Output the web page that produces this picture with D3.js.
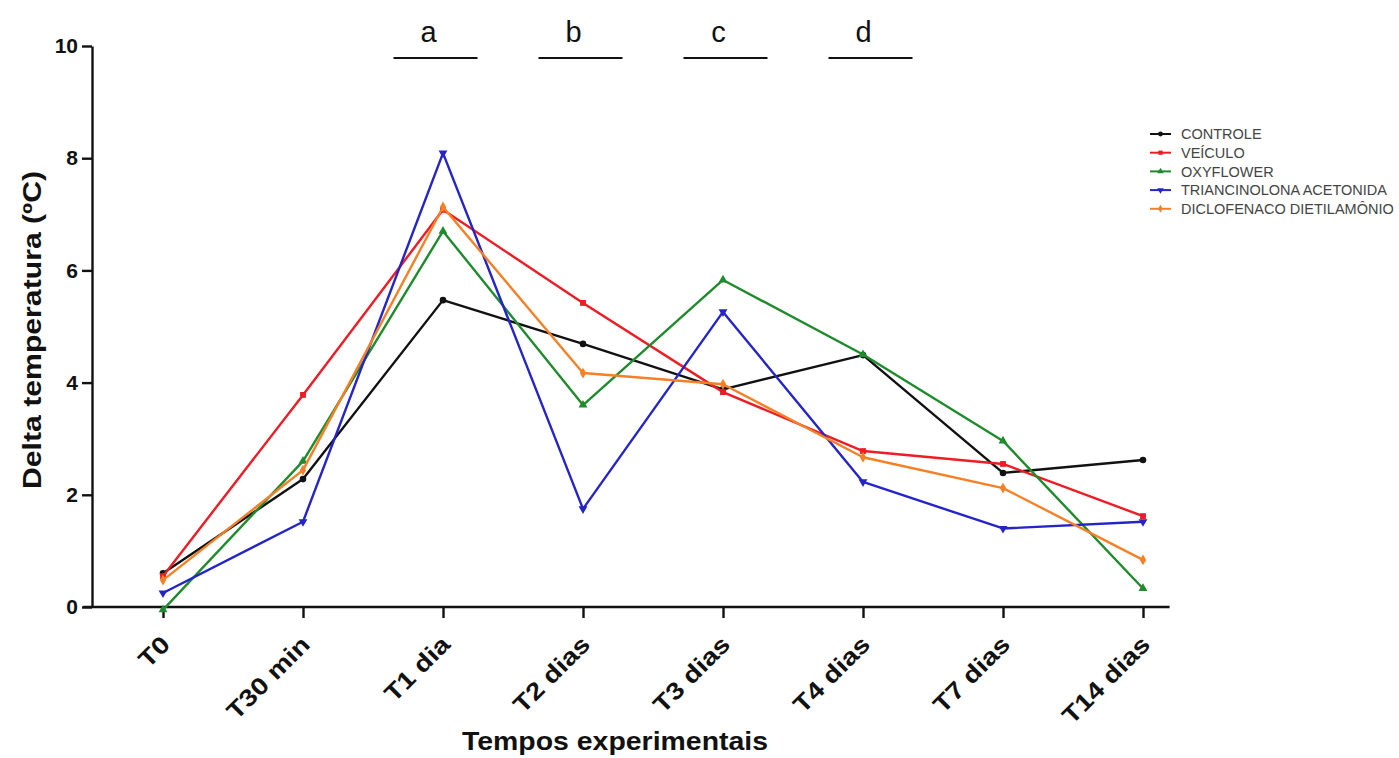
<!DOCTYPE html>
<html>
<head>
<meta charset="utf-8">
<script src="https://d3js.org/d3.v7.min.js"></script>
<style>
  body { margin: 0; background: #fff; }
  svg { font-family: "Liberation Sans", Arial, sans-serif; }
  .axis path, .axis line { stroke: #111; stroke-width: 2.4px; }
  .axis text { font-weight: bold; fill: #111; }
  .serie { fill: none; stroke-width: 2.4px; stroke-linejoin: round; }
</style>
</head>
<body>
<svg width="1399" height="758"></svg>
<script>
// tempos
var tempos = ["T0", "T30 min", "T1 dia", "T2 dias", "T3 dias", "T4 dias", "T7 dias", "T14 dias"];

// delta temperatura por grupo
var controle      = [0.60, 2.28, 5.47, 4.69, 3.88, 4.49, 2.39, 2.62];
var veiculo       = [0.55, 3.78, 7.08, 5.42, 3.83, 2.78, 2.55, 1.62];
var oxyflower     = [-0.05, 2.60, 6.70, 3.60, 5.83, 4.50, 2.96, 0.33];
var triancinolona = [0.25, 1.52, 8.09, 1.75, 5.26, 2.23, 1.40, 1.52];
var diclofenaco   = [0.48, 2.44, 7.13, 4.17, 3.97, 2.67, 2.12, 0.84];

var grupos = ["CONTROLE", "VEÍCULO", "OXYFLOWER", "TRIANCINOLONA ACETONIDA", "DICLOFENACO DIETILAMÔNIO"];
var cores  = ["#111111", "#ee1c24", "#1f8b2c", "#2424c8", "#f58025"];
var yTicks = [0, 2, 4, 6, 8, 10];

// letras acima (a..d) sobre T1..T4
var letras = ["a", "b", "c", "d"];
var letrasTempo = ["T1 dia", "T2 dias", "T3 dias", "T4 dias"];

var series = [controle, veiculo, oxyflower, triancinolona, diclofenaco];
var simbolos = [d3.symbolCircle, d3.symbolSquare, d3.symbolTriangle, d3.symbolTriangle, d3.symbolDiamond];
var rotacao = [0, 0, 0, 180, 0];

var svg = d3.select("svg");

var x = d3.scaleLinear().domain([0, tempos.length - 1]).range([163, 1143]);
var y = d3.scaleLinear().domain([0, 10]).range([607, 46]);

// eixo x
var xAxis = svg.append("g")
  .attr("class", "axis")
  .attr("transform", "translate(0," + y(0) + ")")
  .call(d3.axisBottom(x).tickValues(d3.range(tempos.length)).tickFormat(function(i) { return tempos[i]; }).tickSizeInner(11).tickSizeOuter(0));
xAxis.select(".domain").attr("d", "M" + x(-0.57) + ",0H" + x(7.19));
xAxis.selectAll("text")
  .style("font-size", "24px")
  .attr("text-anchor", "end")
  .attr("dy", null)
  .attr("transform", "translate(8,39) rotate(-45)")
  .attr("y", 0).attr("x", 0)
  .each(function() {
    var n = this.getComputedTextLength();
    d3.select(this).attr("textLength", n * 1.17).attr("lengthAdjust", "spacingAndGlyphs");
  });

// eixo y
var yAxis = svg.append("g")
  .attr("class", "axis")
  .attr("transform", "translate(92,0)")
  .call(d3.axisLeft(y).tickValues(yTicks).tickSizeInner(10).tickSizeOuter(0));
yAxis.selectAll("text").style("font-size", "21px").attr("x", -14);

// títulos
svg.append("text")
  .attr("transform", "translate(41,330) rotate(-90)")
  .attr("text-anchor", "middle")
  .attr("textLength", 318).attr("lengthAdjust", "spacingAndGlyphs")
  .style("font-size", "25px").style("font-weight", "bold").style("fill", "#111")
  .text("Delta temperatura (ºC)");

svg.append("text")
  .attr("x", 615).attr("y", 750)
  .attr("text-anchor", "middle")
  .attr("textLength", 306).attr("lengthAdjust", "spacingAndGlyphs")
  .style("font-size", "25px").style("font-weight", "bold").style("fill", "#111")
  .text("Tempos experimentais");

// linhas
var linha = d3.line()
  .x(function(d, i) { return x(i); })
  .y(function(d) { return y(d); });

series.forEach(function(s, k) {
  svg.append("path")
    .datum(s)
    .attr("class", "serie")
    .attr("stroke", cores[k])
    .attr("d", linha);

  svg.append("g").selectAll("path")
    .data(s)
    .enter().append("path")
    .attr("d", d3.symbol().type(simbolos[k]).size(34))
    .attr("transform", function(d, i) { return "translate(" + x(i) + "," + y(d) + ") rotate(" + rotacao[k] + ")"; })
    .attr("fill", cores[k]);
});

// legenda
var leg = svg.append("g").attr("transform", "translate(1150,134)");
var item = leg.selectAll("g")
  .data(grupos)
  .enter().append("g")
  .attr("transform", function(d, i) { return "translate(0," + i * 18.7 + ")"; });
item.append("line")
  .attr("x1", 0).attr("x2", 21)
  .attr("stroke", function(d, i) { return cores[i]; })
  .attr("stroke-width", 2);
item.append("path")
  .attr("d", function(d, i) { return d3.symbol().type(simbolos[i]).size(18)(); })
  .attr("transform", function(d, i) { return "translate(10.5,0) rotate(" + rotacao[i] + ")"; })
  .attr("fill", function(d, i) { return cores[i]; });
item.append("text")
  .attr("x", 31).attr("dy", "0.36em")
  .style("font-size", "14.5px").style("fill", "#444")
  .text(function(d) { return d; });

// letras
var letrasG = svg.append("g").selectAll("g")
  .data(letras)
  .enter().append("g")
  .attr("transform", function(d, i) { return "translate(" + (x(tempos.indexOf(letrasTempo[i])) + (i - 1.5) * 5) + ",0)"; });
letrasG.append("line")
  .attr("x1", -42).attr("x2", 42)
  .attr("y1", 58).attr("y2", 58)
  .attr("stroke", "#111").attr("stroke-width", 2);
letrasG.append("text")
  .attr("x", -7).attr("y", 42)
  .attr("text-anchor", "middle")
  .style("font-size", "29px").style("fill", "#111")
  .text(function(d) { return d; });
</script>
</body>
</html>
